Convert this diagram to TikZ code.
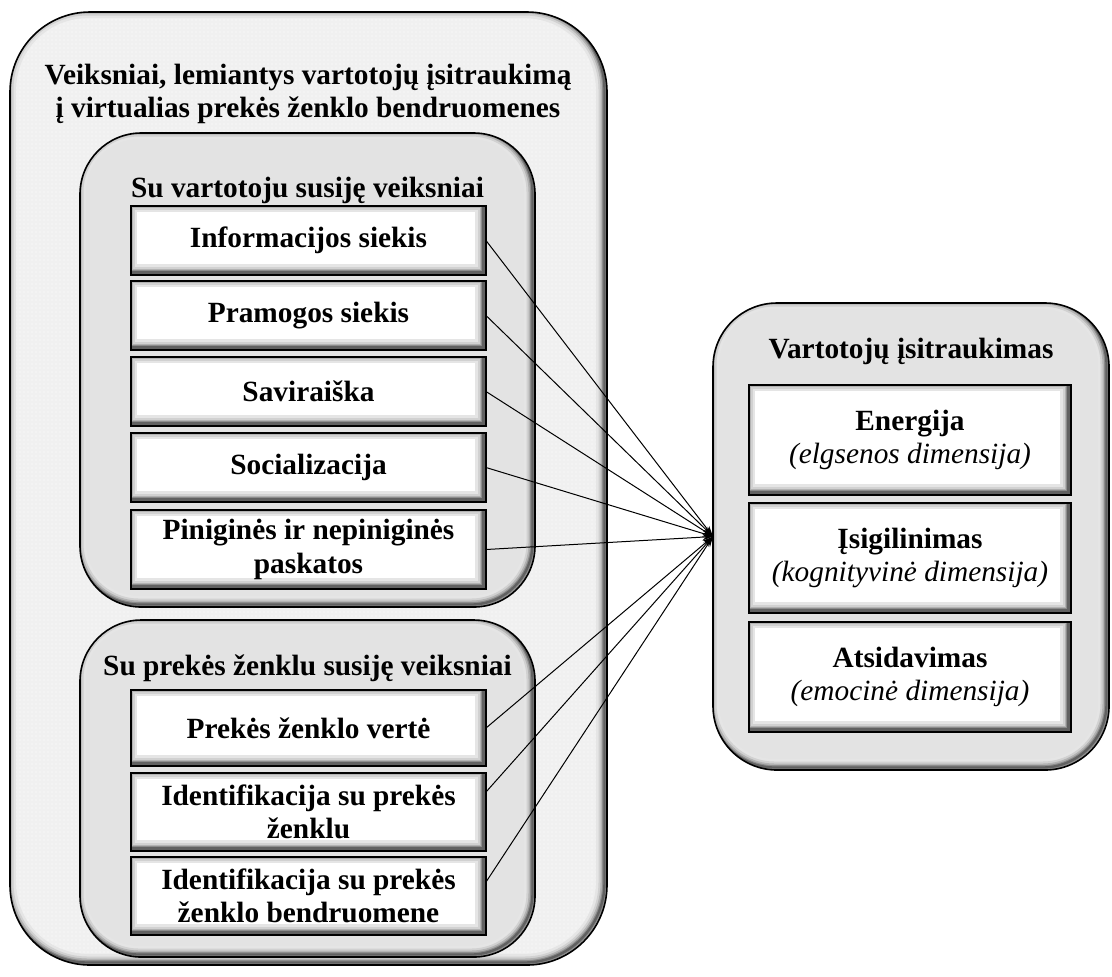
\documentclass[tikz,border=0pt]{standalone}
\usepackage{fontspec}
\setmainfont{Liberation Serif}
\usetikzlibrary{arrows.meta,patterns}
\newcommand\mybevel[1]{%
  \foreach \lw/\cc in {13pt/10,9pt/18,6pt/30,3.5pt/45,1.8pt/62}{%
    \draw[black!\cc, line width=\lw, rounded corners=#1]
      ([shift={(-2.5,-2.5)}]path picture bounding box.north west) rectangle
      ([shift={(-2.5,-2.5)}]path picture bounding box.south east);
  }%
}
\begin{document}
\begin{tikzpicture}[x=0.75pt,y=-0.75pt,
  wh/.style 2 args={minimum width=#1*0.75pt, minimum height=#2*0.75pt, inner sep=0pt, outer sep=0pt},
  txt/.style={font=\fontsize{22}{25}\selectfont\bfseries, align=center},
  outerbox/.style={draw=black, line width=1.2pt, rounded corners=60pt,
    preaction={fill=black!6}, pattern=dots, pattern color=white,
    path picture={\mybevel{60pt}}},
  groupbox/.style={draw=black, line width=1.2pt, rounded corners=#1, fill=black!11,
    path picture={\mybevel{#1}}},
  itembox/.style={draw=black, line width=1.2pt, fill=white,
    path picture={\mybevel{0pt}}, txt},
  link/.style={line width=0.75pt, -{Stealth[length=8pt,width=5pt]}},
]
\useasboundingbox (0,0) rectangle (1112,976);

% left outer container
\node[outerbox, wh={597}{953}] (outer) at (308.5,488.5) {};
\node[txt] (outertitle) at (308,94) {Veiksniai, lemiantys vartotojų įsitraukimą\\į virtualias prekės ženklo bendruomenes};

% consumer-related group
\node[groupbox=46pt, wh={455}{474}] (g1) at (307.5,370) {};
\node[txt] (g1t) at (307.5,190) {Su vartotoju susiję veiksniai};
\node[itembox, wh={355}{69}] (a1) at (308.5,240.5) {Informacijos siekis};
\node[itembox, wh={355}{69}] (a2) at (308.5,315.5) {Pramogos siekis};
\node[itembox, wh={355}{69}] (a3) at (308.5,391.5) {Saviraiška};
\node[itembox, wh={355}{69}] (a4) at (308.5,467.5) {Socializacija};
\node[itembox, wh={355}{79}] (a5) at (308.5,549.5) {Piniginės ir nepiniginės\\paskatos};

% brand-related group
\node[groupbox=46pt, wh={455}{337}] (g2) at (307.5,788.5) {};
\node[txt] (g2t) at (307.5,668) {Su prekės ženklu susiję veiksniai};
\node[itembox, wh={355}{76}] (b1) at (308.5,728) {Prekės ženklo vertė};
\node[itembox, wh={355}{78}] (b2) at (308.5,812) {Identifikacija su prekės\\ženklu};
\node[itembox, wh={355}{78}] (b3) at (308.5,896) {Identifikacija su prekės\\ženklo bendruomene};

% engagement
\node[groupbox=48pt, wh={396}{467}] (rbox) at (911,536.5) {};
\node[txt] (rt) at (911,351) {Vartotojų įsitraukimas};
\node[itembox, wh={322}{110}] (r1) at (910,440) {Energija\\{\mdseries\itshape (elgsenos dimensija)}};
\node[itembox, wh={322}{110}] (r2) at (910,558) {Įsigilinimas\\{\mdseries\itshape (kognityvinė dimensija)}};
\node[itembox, wh={322}{110}] (r3) at (910,677) {Atsidavimas\\{\mdseries\itshape (emocinė dimensija)}};

% connectors
\foreach \n in {a1,a2,a3,a4,a5,b1}
  \draw[link] (\n.east) -- (rbox.west);
\draw[link] ([yshift=15pt]b2.east) -- (rbox.west);
\draw[link] ([yshift=10.5pt]b3.east) -- (rbox.west);
\end{tikzpicture}
\end{document}
